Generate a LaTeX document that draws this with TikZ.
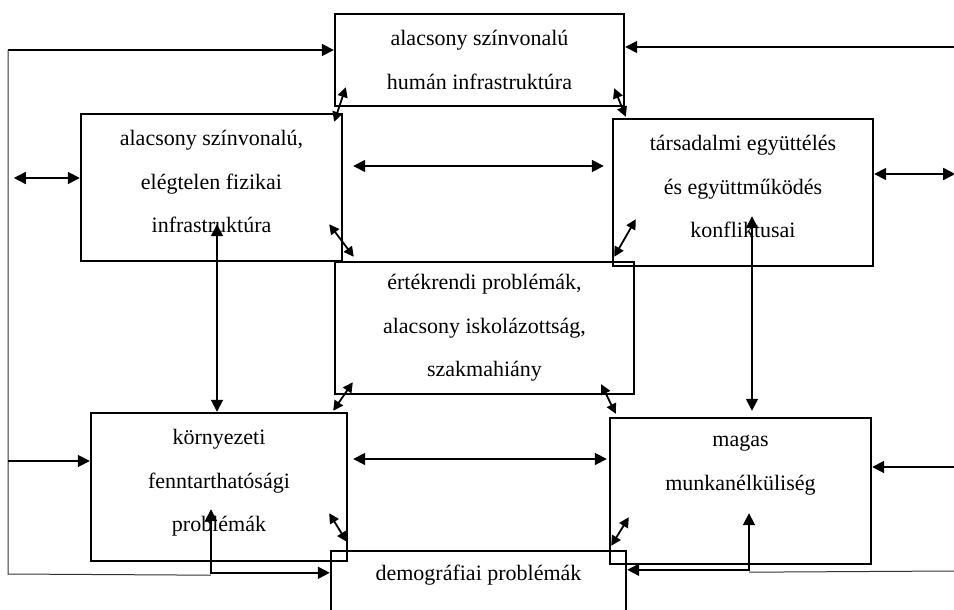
\documentclass[tikz,border=0pt]{standalone}
\usepackage{fontspec}
\setmainfont{Liberation Serif}
\usepackage{tikz}
\usetikzlibrary{arrows.meta,calc}
\tikzset{
    box/.style={
        draw,
        line width=2.4pt,
        align=center,
        inner sep=0pt,
        font=\fontsize{22}{43.5}\selectfont
    },
    flow/.style={-{Triangle[length=12pt,width=12pt]}, line width=1.8pt},
    dbl/.style={{Triangle[length=12pt,width=12pt]}-{Triangle[length=12pt,width=12pt]}, line width=1.8pt},
    dblsm/.style={{Triangle[length=10pt,width=10pt]}-{Triangle[length=10pt,width=10pt]}, line width=1.8pt},
    frame/.style={line width=1pt, black!80}
}

\begin{document}
\begin{tikzpicture}[x=1pt, y=-1pt]
        \useasboundingbox (0,0) rectangle (954,610);
        \clip (0,0) rectangle (954,610);

        \node[box, minimum width=289, minimum height=92] (hum) at (479.5,60) {alacsony színvonalú\\humán infrastruktúra};
        \node[box, minimum width=261, minimum height=147, text depth=12pt] (fiz) at (211.5,187.5) {alacsony színvonalú,\\elégtelen fizikai\\infrastruktúra};
        \node[box, minimum width=260, minimum height=147, text depth=12pt] (tars) at (743,192.5) {társadalmi együttélés\\és együttműködés\\konfliktusai};
        \node[box, minimum width=299, minimum height=132] (ert) at (484.5,328) {értékrendi problémák,\\alacsony iskolázottság,\\szakmahiány};
        \node[box, minimum width=256, minimum height=148, text depth=13pt] (kor) at (219,487) {környezeti\\fenntarthatósági\\problémák};
        \node[box, minimum width=261, minimum height=146] (mag) at (740.5,491) {magas\\munkanélküliség\\\strut};
        \node[box, minimum width=295, minimum height=90, text depth=3pt] (dem) at (478.5,596) {demográfiai problémák\\\strut};

        % outer frame
        \coordinate (lt) at (8,50);
        \coordinate (lb) at (8,574);
        \coordinate (rt) at (954,47);
        \coordinate (rb) at (954,571);
        \coordinate (kw) at ($(kor.west)+(0,-26)$);
        \coordinate (me) at ($(mag.east)+(0,-24)$);
        \draw[frame] (lt) -- (lb) -- ($(kor.south)+(-8,13)$);
        \draw[frame] (rb) -- ($(mag.south)+(8.5,7)$);
        \draw[flow] (lt) -- (lt -| hum.west);
        \draw[flow] (rt) -- (rt -| hum.east);
        \draw[flow] (kw -| lb) -- (kw);
        \draw[flow] (me -| rb) -- (me);
        \draw[dbl] ($(fiz.west)+(-66,-9.5)$) -- ($(fiz.west)+(0,-9.5)$);
        \draw[dbl] ($(tars.east)+(0,-18.5)$) -- ($(tars.east)+(81,-18.5)$);

        % bottom connectors to dem
        \draw[dbl] ($(kor.south)+(-8,-53)$) |- ($(dem.north west)+(0,23)$);
        \draw[dbl] ($(mag.south)+(8.5,-52)$) |- ($(dem.north east)+(0,20)$);

        % horizontal and vertical links
        \coordinate (m1) at (0,166);
        \coordinate (m2) at (0,459);
        \draw[dbl, shorten <=10pt, shorten >=8pt] (fiz.east |- m1) -- (tars.west |- m1);
        \draw[dbl, shorten <=5pt, shorten >=2pt] (kor.east |- m2) -- (mag.west |- m2);
        \draw[dbl] ($(fiz.south)+(5.5,-38)$) -- ($(kor.north)+(-2,0)$);
        \draw[dbl] ($(tars.south)+(9,-51)$) -- ($(mag.north)+(11.5,-6)$);

        % short diagonal links
        \draw[dblsm] ($(hum.south west)+(12,-20)$) -- ($(fiz.north east)+(-9,9)$);
        \draw[dblsm] ($(hum.south east)+(-11,-19)$) -- ($(tars.north west)+(14,-1)$);
        \draw[dblsm] ($(fiz.south east)+(-14,-38)$) -- ($(ert.north west)+(20,-4)$);
        \draw[dblsm] ($(tars.south west)+(24,-48)$) -- ($(ert.north east)+(-21,-4)$);
        \draw[dblsm] ($(ert.south west)+(19,-13)$) -- ($(kor.north east)+(-15,-1)$);
        \draw[dblsm] ($(ert.south east)+(-34,-11)$) -- ($(mag.north west)+(7,-3)$);
        \draw[dblsm] ($(kor.south east)+(-19,-49)$) -- ($(dem.north west)+(17,-8)$);
        \draw[dblsm] ($(mag.south west)+(20,-48)$) -- ($(dem.north east)+(-16,-4)$);
    \end{tikzpicture}
\end{document}
